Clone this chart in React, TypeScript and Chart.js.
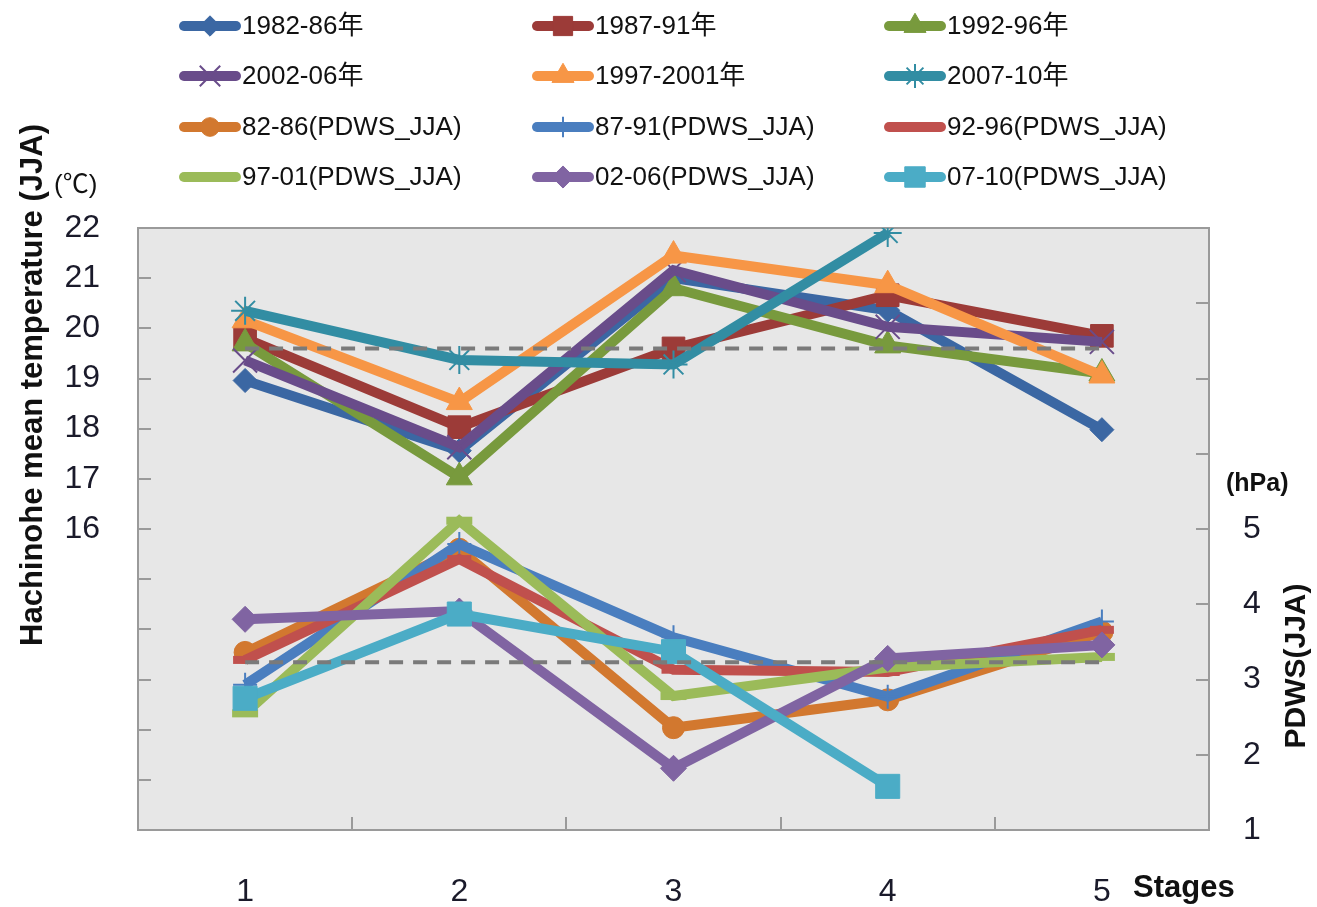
import React, { useEffect, useRef } from 'react';
import { Chart, registerables } from 'chart.js';
import { drawPoint } from 'chart.js/helpers';

Chart.register(...registerables);

// ---- data ----
const stages = ['1', '2', '3', '4', '5'];

const temp1982_86 = [18.96, 17.56, 21.0, 20.36, 17.98];
const temp1987_91 = [19.8, 18.03, 19.6, 20.66, 19.85];
const temp1992_96 = [19.7, 17.03, 20.8, 19.66, 19.1];
const temp2002_06 = [19.36, 17.63, 21.16, 20.03, 19.73];
const temp1997_2001 = [20.16, 18.53, 21.45, 20.86, 19.06];
const temp2007_10 = [20.35, 19.37, 19.28, 21.9, null];

const pdws82_86 = [3.36, 4.73, 2.36, 2.73, 3.63];
const pdws87_91 = [2.93, 4.8, 3.56, 2.77, 3.77];
const pdws92_96 = [3.26, 4.6, 3.13, 3.1, 3.66];
const pdws97_01 = [2.55, 5.11, 2.78, 3.16, 3.3];
const pdws02_06 = [3.8, 3.91, 1.82, 3.28, 3.46];
const pdws07_10 = [2.75, 3.87, 3.37, 1.58, null];

const tempMean = [19.6, 19.6, 19.6, 19.6, 19.6];
const pdwsMean = [3.23, 3.23, 3.23, 3.23, 3.23];

const tempLabelMin = 16; // left axis labels shown from 16 up
const pdwsLabelMax = 5; // right axis labels shown up to 5

const FONT = '"Liberation Sans", Arial, "Noto Sans CJK JP", sans-serif';

type S = {
  label: string;
  data: (number | null)[];
  color: string;
  style: string;
  radius: number;
  bw: number;
  axis: string;
};

const series: S[] = [
  { label: '1982-86年', data: temp1982_86, color: '#3B67A3', style: 'rectRot', radius: 12, bw: 1, axis: 'y' },
  { label: '1987-91年', data: temp1987_91, color: '#9C3B38', style: 'rect', radius: 16, bw: 1, axis: 'y' },
  { label: '1992-96年', data: temp1992_96, color: '#789A3D', style: 'triangle', radius: 15, bw: 1, axis: 'y' },
  { label: '2002-06年', data: temp2002_06, color: '#694C8A', style: 'crossRot', radius: 17, bw: 2, axis: 'y' },
  { label: '1997-2001年', data: temp1997_2001, color: '#F79646', style: 'triangle', radius: 15, bw: 1, axis: 'y' },
  { label: '2007-10年', data: temp2007_10, color: '#328DA3', style: 'star', radius: 14, bw: 2, axis: 'y' },
  { label: '82-86(PDWS_JJA)', data: pdws82_86, color: '#D2782F', style: 'circle', radius: 11, bw: 1, axis: 'y1' },
  { label: '87-91(PDWS_JJA)', data: pdws87_91, color: '#4A7EBF', style: 'cross', radius: 12, bw: 2, axis: 'y1' },
  { label: '92-96(PDWS_JJA)', data: pdws92_96, color: '#C0504D', style: 'line', radius: 12, bw: 8, axis: 'y1' },
  { label: '97-01(PDWS_JJA)', data: pdws97_01, color: '#9BBB59', style: 'line', radius: 13, bw: 8, axis: 'y1' },
  { label: '02-06(PDWS_JJA)', data: pdws02_06, color: '#8064A2', style: 'rectRot', radius: 13, bw: 1, axis: 'y1' },
  { label: '07-10(PDWS_JJA)', data: pdws07_10, color: '#4BACC6', style: 'rect', radius: 17, bw: 1, axis: 'y1' },
];

const legendCols = [180, 533, 885];
const legendRows = [26, 76, 127, 177];

const decorPlugin = {
  id: 'decor',
  beforeDatasetsDraw(chart: any) {
    const { ctx, chartArea: a, scales } = chart;
    ctx.save();
    ctx.fillStyle = '#E7E7E7';
    ctx.fillRect(a.left, a.top, a.right - a.left, a.bottom - a.top);
    ctx.strokeStyle = '#9A9A9A';
    ctx.lineWidth = 2;
    const y = scales.y;
    y.ticks.forEach((_t: any, i: number) => {
      const p = Math.round(y.getPixelForTick(i));
      ctx.beginPath();
      ctx.moveTo(a.left, p);
      ctx.lineTo(a.left + 13, p);
      ctx.stroke();
    });
    const y1 = scales.y1;
    y1.ticks.forEach((_t: any, i: number) => {
      const p = Math.round(y1.getPixelForTick(i));
      ctx.beginPath();
      ctx.moveTo(a.right - 13, p);
      ctx.lineTo(a.right, p);
      ctx.stroke();
    });
    const x = scales.x;
    for (let i = 0; i < stages.length - 1; i++) {
      const p = Math.round((x.getPixelForValue(i) + x.getPixelForValue(i + 1)) / 2);
      ctx.beginPath();
      ctx.moveTo(p, a.bottom);
      ctx.lineTo(p, a.bottom - 13);
      ctx.stroke();
    }
    ctx.strokeRect(a.left, a.top, a.right - a.left, a.bottom - a.top);
    ctx.restore();
  },
  afterDraw(chart: any) {
    const { ctx } = chart;
    ctx.save();
    // legend
    series.forEach((s, i) => {
      const col = i % 3;
      const row = Math.floor(i / 3);
      const x0 = legendCols[col];
      const yc = legendRows[row];
      ctx.strokeStyle = s.color;
      ctx.lineWidth = 10;
      ctx.lineCap = 'round';
      ctx.setLineDash([]);
      ctx.beginPath();
      ctx.moveTo(x0 + 4, yc);
      ctx.lineTo(x0 + 56, yc);
      ctx.stroke();
      ctx.lineCap = 'butt';
      ctx.fillStyle = s.color;
      ctx.strokeStyle = s.color;
      ctx.lineWidth = s.bw;
      if (s.style !== 'line') {
        drawPoint(ctx, { pointStyle: s.style, rotation: 0, radius: s.radius * 0.85, borderWidth: s.bw } as any, x0 + 30, yc);
      }
      ctx.fillStyle = '#111';
      ctx.font = `26px ${FONT}`;
      ctx.textAlign = 'left';
      ctx.textBaseline = 'middle';
      ctx.fillText(s.label, x0 + 62, yc + 1);
    });

    // axis titles
    ctx.fillStyle = '#111';
    ctx.font = `bold 31px ${FONT}`;
    ctx.textAlign = 'center';
    ctx.textBaseline = 'middle';
    ctx.save();
    ctx.translate(33, 385);
    ctx.rotate(-Math.PI / 2);
    ctx.fillText('Hachinohe mean temperature (JJA)', 0, 0);
    ctx.restore();

    ctx.save();
    ctx.font = `bold 30px ${FONT}`;
    ctx.translate(1297, 666);
    ctx.rotate(-Math.PI / 2);
    ctx.fillText('PDWS(JJA)', 0, 0);
    ctx.restore();

    ctx.font = `26px ${FONT}`;
    ctx.textAlign = 'left';
    ctx.fillText('(℃)', 54, 186);

    ctx.font = `bold 25px ${FONT}`;
    ctx.fillText('(hPa)', 1226, 484);

    ctx.font = `bold 31px ${FONT}`;
    ctx.fillText('Stages', 1133, 888);
    ctx.restore();
  },
};

export default function App() {
  const ref = useRef<HTMLCanvasElement | null>(null);

  useEffect(() => {
    if (!ref.current) return;
    const n = series.length;
    const datasets: any[] = series.map((s, i) => ({
      label: s.label,
      data: s.data,
      yAxisID: s.axis,
      borderColor: s.color,
      backgroundColor: s.color,
      borderWidth: 10,
      pointStyle: s.style,
      pointRadius: s.radius,
      pointBorderWidth: s.bw,
      pointBackgroundColor: s.color,
      pointBorderColor: s.color,
      fill: false,
      tension: 0,
      order: n - i,
    }));
    datasets.push({
      label: 'temp mean',
      data: tempMean,
      yAxisID: 'y',
      borderColor: '#7A7A7A',
      borderWidth: 4,
      borderDash: [14, 10],
      pointRadius: 0,
      fill: false,
      order: -10,
    });
    datasets.push({
      label: 'pdws mean',
      data: pdwsMean,
      yAxisID: 'y1',
      borderColor: '#7A7A7A',
      borderWidth: 4,
      borderDash: [14, 10],
      pointRadius: 0,
      fill: false,
      order: -11,
    });

    const tickFont = { family: FONT, size: 32 };
    const chart = new Chart(ref.current, {
      type: 'line',
      data: { labels: stages, datasets },
      plugins: [decorPlugin],
      options: {
        animation: false,
        responsive: false,
        events: [],
        layout: { padding: { top: 228, left: 0, right: 0, bottom: 0 } },
        plugins: { legend: { display: false }, tooltip: { enabled: false }, title: { display: false } },
        scales: {
          x: {
            type: 'category',
            offset: true,
            grid: { display: false, drawTicks: false },
            border: { display: false },
            ticks: { font: tickFont, color: '#1a1a2a', padding: 43, maxRotation: 0, autoSkip: false },
            afterFit: (s: any) => { s.height = 77; },
          },
          y: {
            type: 'linear',
            position: 'left',
            min: 10,
            max: 22,
            grid: { display: false, drawTicks: false },
            border: { display: false },
            ticks: {
              stepSize: 1,
              autoSkip: false,
              font: tickFont,
              color: '#1a1a2a',
              padding: 38,
              callback: (v: any) => (Number(v) >= tempLabelMin ? String(v) : ''),
            },
            afterFit: (s: any) => { s.width = 138; },
          },
          y1: {
            type: 'linear',
            position: 'right',
            min: 1,
            max: 9,
            grid: { display: false, drawTicks: false },
            border: { display: false },
            ticks: {
              stepSize: 1,
              autoSkip: false,
              font: tickFont,
              color: '#1a1a2a',
              padding: 34,
              callback: (v: any) => (Number(v) <= pdwsLabelMax ? String(v) : ''),
            },
            afterFit: (s: any) => { s.width = 108; },
          },
        },
      } as any,
    });
    return () => chart.destroy();
  }, []);

  return (
    <div style={{ position: 'absolute', left: 0, top: 0, width: 1317, height: 907, background: '#fff' }}>
      <canvas ref={ref} width={1317} height={907} style={{ display: 'block' }} />
    </div>
  );
}
